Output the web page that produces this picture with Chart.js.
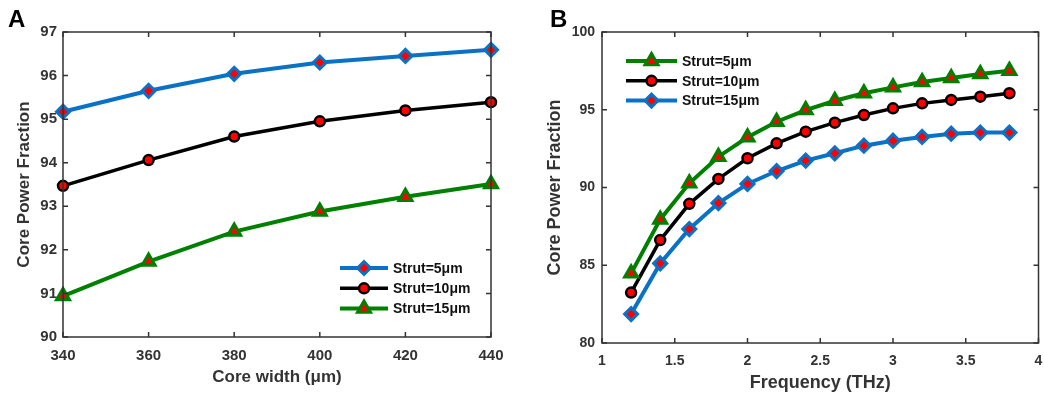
<!DOCTYPE html>
<html>
<head>
<meta charset="utf-8">
<script src="https://cdn.jsdelivr.net/npm/chart.js@4/dist/chart.umd.min.js"></script>
<style>
  body { margin: 0; background: #fff; overflow: hidden; }
  .wrap { position: absolute; top: 0; height: 398px; }
  .lbl { position: absolute; font: bold 24px "Liberation Sans", Arial, sans-serif; color: #000; }
</style>
</head>
<body>
<div class="wrap" style="left:0;width:520px"><canvas id="chartA"></canvas></div>
<div class="wrap" style="left:520px;width:529px"><canvas id="chartB"></canvas></div>
<div class="lbl" style="left:8px;top:5px">A</div>
<div class="lbl" style="left:550px;top:5px">B</div>
<script>
// panel A: core width sweep
var coreWidth = [340, 360, 380, 400, 420, 440];
var a_strut5 = [95.17, 95.65, 96.04, 96.30, 96.45, 96.59];
var a_strut10 = [93.47, 94.06, 94.60, 94.95, 95.20, 95.39];
var a_strut15 = [90.94, 91.73, 92.42, 92.88, 93.22, 93.51];

// panel B: frequency sweep
var freq = [1.2, 1.4, 1.6, 1.8, 2.0, 2.2, 2.4, 2.6, 2.8, 3.0, 3.2, 3.4, 3.6, 3.8];
var b_strut5 = [84.48, 87.95, 90.27, 91.98, 93.23, 94.23, 94.98, 95.58, 96.06, 96.44, 96.78, 97.04, 97.30, 97.51];
var b_strut10 = [83.24, 86.62, 88.95, 90.55, 91.88, 92.84, 93.59, 94.17, 94.66, 95.09, 95.41, 95.63, 95.84, 96.06];
var b_strut15 = [81.86, 85.12, 87.33, 89.00, 90.23, 91.06, 91.73, 92.20, 92.69, 93.01, 93.25, 93.46, 93.53, 93.53];

var labels = ["Strut=5μm", "Strut=10μm", "Strut=15μm"];

var BLUE = "#0a72c6", BLACK = "#000000", GREEN = "#008000", RED = "#ff0000";
var FONT = "'Liberation Sans', Arial, sans-serif";
var AXC = "#333333";

var styles = {
  blue: { color: BLUE, width: 4, pointStyle: 'rectRot', radius: 6.5, bw: 3 },
  black: { color: BLACK, width: 3.5, pointStyle: 'circle', radius: 5, bw: 2.5 },
  green: { color: GREEN, width: 4, pointStyle: 'triangle', radius: 7.5, bw: 3 }
};

function pts(xs, ys) {
  var out = [];
  for (var i = 0; i < xs.length; i++) out.push({ x: xs[i], y: ys[i] });
  return out;
}

function ds(label, xs, ys, st) {
  return {
    label: label,
    data: pts(xs, ys),
    borderColor: st.color,
    borderWidth: st.width,
    pointStyle: st.pointStyle,
    pointRadius: st.radius,
    pointBorderWidth: st.bw,
    pointBorderColor: st.color,
    pointBackgroundColor: RED,
    tension: 0,
    clip: false
  };
}

// matlab style box with inward ticks
var boxPlugin = {
  id: 'box',
  afterDatasetsDraw: function(chart) {
    var ctx = chart.ctx, a = chart.chartArea;
    var xs = chart.scales.x, ys = chart.scales.y;
    ctx.save();
    ctx.strokeStyle = AXC;
    ctx.lineWidth = 1.5;
    ctx.strokeRect(a.left, a.top, a.right - a.left, a.bottom - a.top);
    var len = 5;
    ctx.beginPath();
    xs.ticks.forEach(function(t) {
      var px = xs.getPixelForValue(t.value);
      ctx.moveTo(px, a.bottom); ctx.lineTo(px, a.bottom - len);
      ctx.moveTo(px, a.top); ctx.lineTo(px, a.top + len);
    });
    ys.ticks.forEach(function(t) {
      var py = ys.getPixelForValue(t.value);
      ctx.moveTo(a.left, py); ctx.lineTo(a.left + len, py);
      ctx.moveTo(a.right, py); ctx.lineTo(a.right - len, py);
    });
    ctx.stroke();
    ctx.restore();
  }
};

// legend drawn inside the plot
var innerLegend = {
  id: 'innerLegend',
  afterDraw: function(chart, args, o) {
    var ctx = chart.ctx;
    ctx.save();
    chart.data.datasets.forEach(function(d, i) {
      var y = o.y + i * o.row;
      ctx.strokeStyle = d.borderColor;
      ctx.lineWidth = d.borderWidth;
      ctx.beginPath();
      ctx.moveTo(o.x0, y); ctx.lineTo(o.x1, y);
      ctx.stroke();
      ctx.fillStyle = d.pointBackgroundColor;
      ctx.strokeStyle = d.pointBorderColor;
      ctx.lineWidth = d.pointBorderWidth;
      Chart.helpers.drawPoint(ctx, {
        pointStyle: d.pointStyle, radius: d.pointRadius, borderWidth: d.pointBorderWidth, rotation: 0
      }, (o.x0 + o.x1) / 2, y);
      ctx.fillStyle = "#111";
      ctx.font = "bold " + o.size + "px " + FONT;
      ctx.textBaseline = "middle";
      ctx.textAlign = "left";
      ctx.fillText(d.label, o.tx, y + 1);
    });
    ctx.restore();
  }
};

function makeOpts(cfg) {
  return {
    responsive: true,
    maintainAspectRatio: false,
    animation: false,
    layout: { padding: cfg.pad },
    plugins: {
      legend: { display: false },
      tooltip: { enabled: false },
      innerLegend: cfg.legend
    },
    scales: {
      x: {
        type: 'linear',
        min: cfg.xmin, max: cfg.xmax,
        grid: { display: false, drawTicks: false },
        border: { display: false },
        ticks: {
          stepSize: cfg.xstep, padding: cfg.xtickPad, color: AXC, maxRotation: 0,
          font: { family: FONT, size: cfg.tick, weight: 'bold' },
          callback: function(v) { return String(Math.round(v * 100) / 100); }
        },
        title: { display: true, text: cfg.xtitle, color: AXC, font: { family: FONT, size: cfg.title, weight: 'bold' }, padding: { top: 0, bottom: cfg.xtitlePad } },
        afterFit: function(s) { s.height = cfg.xh; s.paddingLeft = 0; s.paddingRight = 0; }
      },
      y: {
        min: cfg.ymin, max: cfg.ymax,
        grid: { display: false, drawTicks: false },
        border: { display: false },
        ticks: { stepSize: cfg.ystep, padding: cfg.ytickPad, color: AXC, font: { family: FONT, size: cfg.tick, weight: 'bold' } },
        title: { display: true, text: "Core Power Fraction", color: AXC, font: { family: FONT, size: cfg.title, weight: 'bold' }, padding: { top: cfg.ytitlePad, bottom: 0 } },
        afterFit: function(s) { s.width = cfg.yw; s.paddingTop = 0; s.paddingBottom = 0; }
      }
    }
  };
}

new Chart(document.getElementById("chartA"), {
  type: 'line',
  data: {
    datasets: [
      ds(labels[0], coreWidth, a_strut5, styles.blue),
      ds(labels[1], coreWidth, a_strut10, styles.black),
      ds(labels[2], coreWidth, a_strut15, styles.green)
    ]
  },
  options: makeOpts({
    pad: { left: 0, right: 29, top: 32, bottom: 0 },
    xmin: 340, xmax: 440, xstep: 20, ymin: 90, ymax: 97, ystep: 1,
    xtitle: "Core width (μm)", tick: 15, title: 17,
    xh: 61, yw: 63, xtickPad: 10, ytickPad: 6, xtitlePad: 10, ytitlePad: 14,
    legend: { x0: 340, x1: 388, tx: 393, y: 268, row: 20.3, size: 14 }
  }),
  plugins: [boxPlugin, innerLegend]
});

new Chart(document.getElementById("chartB"), {
  type: 'line',
  data: {
    datasets: [
      ds(labels[0], freq, b_strut5, styles.green),
      ds(labels[1], freq, b_strut10, styles.black),
      ds(labels[2], freq, b_strut15, styles.blue)
    ]
  },
  options: makeOpts({
    pad: { left: 0, right: 1, top: 32, bottom: 0 },
    xmin: 1, xmax: 4, xstep: 0.5, ymin: 80, ymax: 100, ystep: 5,
    xtitle: "Frequency (THz)", tick: 14, title: 18,
    xh: 55, yw: 82, xtickPad: 10, ytickPad: 7, xtitlePad: 4, ytitlePad: 24,
    legend: { x0: 106, x1: 157, tx: 162, y: 61, row: 19.8, size: 14 }
  }),
  plugins: [boxPlugin, innerLegend]
});
</script>
</body>
</html>
